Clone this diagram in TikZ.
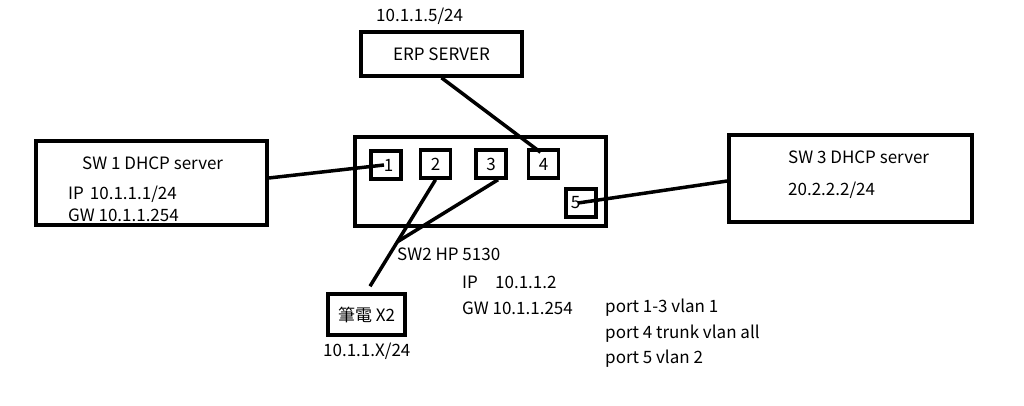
\documentclass[tikz,border=0pt]{standalone}
\usepackage{fontspec}
\setmainfont{Noto Sans CJK TC}
\newfontfamily\cjkfont{Noto Sans CJK TC}
\begin{document}
\begin{tikzpicture}[x=1pt,y=-1pt,
  box/.style={draw,line width=3.5pt,inner sep=0pt,font=\fontsize{17}{19}\selectfont},
  port/.style={box,minimum width=30pt,minimum height=28pt},
  lbl/.style={anchor=base west,inner sep=0pt,font=\fontsize{17}{19}\selectfont},
  wire/.style={line width=3.5pt}]
\useasboundingbox (0,0) rectangle (1024,405);
\fill[white] (0,0) rectangle (1024,405);
% boxes
\node[box,minimum width=231pt,minimum height=84pt] (sw1) at (151.5,183) {};
\node[box,minimum width=251pt,minimum height=89pt] (sw2) at (480.5,181.5) {};
\node[box,minimum width=161pt,minimum height=44pt] (erp) at (441.5,54) {ERP SERVER};
\node[box,minimum width=243pt,minimum height=87pt] (sw3) at (850.5,178.5) {};
\node[box,minimum width=77pt,minimum height=41pt] (lap) at (366.5,314.5) {{\cjkfont 筆電} X2};
% ports
\node[port] (p1) at (386,165) {\hspace*{5pt}1};
\node[port] (p2) at (435.5,164) {2};
\node[port] (p3) at (491,164) {3};
\node[port] (p4) at (543.5,164) {4};
\node[port] (p5) at (581,203) {5\hspace*{11pt}};
% connectors
\coordinate (cross) at (397,242);
\draw[wire] ([yshift=5pt]sw1.east) -- ([xshift=-2pt,yshift=0pt]p1.center);
\draw[wire] (erp.south) -- ([xshift=-3pt,yshift=-4pt]p4.north);
\draw[wire] ([xshift=-3pt]p5.center) -- ([yshift=-2.5pt]sw3.west);
\draw[wire] (p2.south) -- ([xshift=3.5pt,yshift=6pt]lap.north);
\draw[wire] ([xshift=7pt]p3.south) -- (cross);
% texts
\node[lbl] (t1) at (82,169) {SW 1 DHCP server};
\node[lbl] (t2) at (68,199) {IP\hspace{6pt}10.1.1.1/24};
\node[lbl] (t3) at (68,221) {GW 10.1.1.254};
\node[lbl] (t4) at (376,21) {10.1.1.5/24};
\node[lbl] (t5) at (788,163) {SW 3 DHCP server};
\node[lbl] (t6) at (788,195) {20.2.2.2/24};
\node[lbl] (t7) at (397,260) {SW2 HP 5130};
\node[lbl] (t8) at (462,288) {IP};
\node[lbl] (t8b) at (495,288) {10.1.1.2};
\node[lbl] (t9) at (462,314) {GW 10.1.1.254};
\node[lbl] (t10) at (323,356) {10.1.1.X/24};
\node[lbl] (t11) at (605,312) {port 1-3 vlan 1};
\node[lbl] (t12) at (605,338) {port 4 trunk vlan all};
\node[lbl] (t13) at (605,363) {port 5 vlan 2};
\end{tikzpicture}
\end{document}
